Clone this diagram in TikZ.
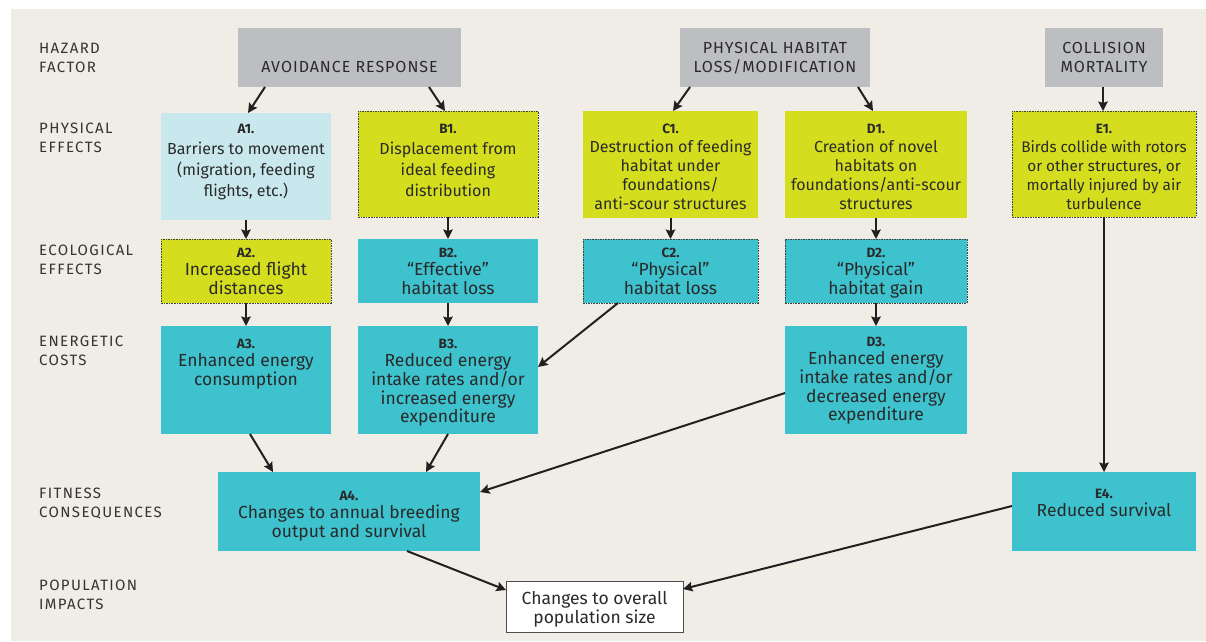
\documentclass[tikz,border=0pt]{standalone}
\usepackage{fontspec}
\setmainfont{Fira Sans}
\newfontfamily\lblfont[LetterSpace=9]{Fira Sans}
\newfontfamily\hzfont[LetterSpace=6]{Fira Sans}
\usetikzlibrary{arrows.meta,calc}
\definecolor{bg}{HTML}{F0EDE6}
\definecolor{grayb}{HTML}{BDBEC2}
\definecolor{lblue}{HTML}{C8E8EE}
\definecolor{ygreen}{HTML}{D5DE1E}
\definecolor{teal}{HTML}{3DC2CE}
\definecolor{txtc}{HTML}{2A2A2A}
\definecolor{lblc}{HTML}{333333}
\definecolor{arrc}{HTML}{231F20}
\tikzset{
  bx/.style={inner sep=0pt, outer sep=0pt, anchor=north west, draw=none},
  dsh/.style={draw=arrc!85, line width=0.7pt, dash pattern=on 1.6pt off 1pt},
  txt/.style={align=center, inner sep=0pt, anchor=north, text=txtc,
    font=\fontsize{17.5}{18.7}\selectfont},
  txtA/.style={txt, font=\fontsize{16}{21}\selectfont},
  txtB/.style={txt, font=\fontsize{16}{19}\selectfont},
  lbl/.style={align=left, inner sep=0pt, anchor=north west, text=lblc,
    font=\lblfont\fontsize{15}{19}\selectfont},
  hz/.style={align=center, inner sep=0pt, anchor=north, text=txtc,
    font=\hzfont\fontsize{16}{19}\selectfont},
  arr/.style={draw=arrc, line width=2pt,
    -{Stealth[length=9.5pt,width=9.5pt,inset=1.5pt]}}
}
\newcommand{\tg}[1]{{\bfseries\fontsize{13.5}{13}\selectfont #1}}
\begin{document}
\begin{tikzpicture}[x=1pt,y=-1pt]
\useasboundingbox (0,0) rectangle (1206,641);
\fill[white] (0,0) rectangle (1206,641);
\fill[bg] (11,9) rectangle (1206,641);

% hazard boxes
\node[bx, fill=grayb, minimum width=223pt, minimum height=59pt] (AV) at (238,28) {};
\node[bx, fill=grayb, minimum width=190pt, minimum height=59pt] (PH) at (680,28) {};
\node[bx, fill=grayb, minimum width=118pt, minimum height=59pt] (CM) at (1045,28) {};
\node[hz] (AVt) at (349.5,61.5) {AVOIDANCE RESPONSE};
\node[hz] (PHt) at (775,42.5) {PHYSICAL HABITAT\\LOSS/MODIFICATION};
\node[hz] (CMt) at (1104,42.5) {COLLISION\\MORTALITY};

% row 1
\node[bx, fill=lblue, minimum width=170pt, minimum height=107pt] (A1) at (161,113) {};
\node[bx, fill=ygreen, dsh, minimum width=180pt, minimum height=106pt] (B1) at (358,111) {};
\node[bx, fill=ygreen, minimum width=175pt, minimum height=107pt] (C1) at (583,111) {};
\node[bx, fill=ygreen, minimum width=182pt, minimum height=107pt] (D1) at (785,111) {};
\node[bx, fill=ygreen, dsh, minimum width=184pt, minimum height=106pt] (E1) at (1012,111) {};

% row 2
\node[bx, fill=ygreen, dsh, minimum width=170pt, minimum height=64pt] (A2) at (161,239) {};
\node[bx, fill=teal, minimum width=180pt, minimum height=64pt] (B2) at (358,239) {};
\node[bx, fill=teal, dsh, minimum width=175pt, minimum height=64pt] (C2) at (583,239) {};
\node[bx, fill=teal, dsh, minimum width=182pt, minimum height=64pt] (D2) at (785,239) {};

% row 3
\node[bx, fill=teal, minimum width=170pt, minimum height=108pt] (A3) at (161,326) {};
\node[bx, fill=teal, minimum width=180pt, minimum height=108pt] (B3) at (358,326) {};
\node[bx, fill=teal, minimum width=182pt, minimum height=108pt] (D3) at (785,326) {};

% row 4
\node[bx, fill=teal, minimum width=262pt, minimum height=79pt] (A4) at (218,472) {};
\node[bx, fill=teal, minimum width=184pt, minimum height=79pt] (E4) at (1012,472) {};

% population
\node[bx, fill=white, draw=arrc!80, line width=1pt, minimum width=177pt, minimum height=51pt] (POP) at (506,581) {};

% texts
\node[txtA] (A1t) at ([yshift=-10.5pt]A1.north) {\tg{A1.}\\Barriers to movement\\(migration, feeding\\flights, etc.)};
\node[txtA] (B1t) at ([yshift=-12.5pt]B1.north) {\tg{B1.}\\Displacement from\\ideal feeding\\distribution};
\node[txtB] (C1t) at ([yshift=-12.5pt]C1.north) {\tg{C1.}\\Destruction of feeding\\habitat under\\foundations/\\anti-scour structures};
\node[txtB] (D1t) at ([yshift=-12.5pt]D1.north) {\tg{D1.}\\Creation of novel\\habitats on\\foundations/anti-scour\\structures};
\node[txtB, font=\fontsize{15.3}{19}\selectfont] (E1t) at ([yshift=-12.5pt]E1.north) {\tg{E1.}\\Birds collide with rotors\\or other structures, or\\mortally injured by air\\turbulence};

\node[txt] (A2t) at ([yshift=-8.5pt]A2.north) {\tg{A2.}\\Increased flight\\distances};
\node[txt] (B2t) at ([yshift=-8.5pt]B2.north) {\tg{B2.}\\“Effective”\\habitat loss};
\node[txt] (C2t) at ([yshift=-8.5pt]C2.north) {\tg{C2.}\\“Physical”\\habitat loss};
\node[txt] (D2t) at ([yshift=-8.5pt]D2.north) {\tg{D2.}\\“Physical”\\habitat gain};

\node[txt] (A3t) at ([yshift=-12.5pt]A3.north) {\tg{A3.}\\Enhanced energy\\consumption};
\node[txt] (B3t) at ([yshift=-12.5pt]B3.north) {\tg{B3.}\\Reduced energy\\intake rates and/or\\increased energy\\expenditure};
\node[txt] (D3t) at ([yshift=-10.5pt]D3.north) {\tg{D3.}\\Enhanced energy\\intake rates and/or\\decreased energy\\expenditure};

\node[txt] (A4t) at ([yshift=-18.5pt]A4.north) {\tg{A4.}\\Changes to annual breeding\\output and survival};
\node[txt] (E4t) at ([yshift=-16.5pt]E4.north) {\tg{E4.}\\Reduced survival};
\node[txt] (POPt) at ([yshift=-10pt]POP.north) {Changes to overall\\population size};

% left labels
\node[lbl] (L1) at (39,42.8) {HAZARD\\FACTOR};
\node[lbl] (L2) at (39,122.8) {PHYSICAL\\EFFECTS};
\node[lbl] (L3) at (39,244.8) {ECOLOGICAL\\EFFECTS};
\node[lbl] (L4) at (39,335.8) {ENERGETIC\\COSTS};
\node[lbl] (L5) at (39,487.8) {FITNESS\\CONSEQUENCES};
\node[lbl] (L6) at (39,579.8) {POPULATION\\IMPACTS};

% connectors
\draw[arr] ([xshift=27pt]AV.south west) -- ([xshift=87pt]A1.north west);
\draw[arr] ([xshift=191pt]AV.south west) -- ([xshift=87pt]B1.north west);
\draw[arr] ([xshift=10pt]PH.south west) -- ([xshift=90pt]C1.north west);
\draw[arr] ([xshift=178pt]PH.south west) -- ([xshift=88pt]D1.north west);
\draw[arr] ([xshift=58pt]CM.south west) -- ([xshift=91pt]E1.north west);
\draw[arr] (A1) -- (A2);
\draw[arr] (B1) -- (B2);
\draw[arr] (C1) -- (C2);
\draw[arr] (D1) -- (D2);
\draw[arr] (A2) -- (A3);
\draw[arr] (B2) -- (B3);
\draw[arr] (D2) -- (D3);
\draw[arr] ([xshift=35pt]C2.south west) -- ([yshift=-41pt]B3.north east);
\draw[arr] (E1) -- (E4);
\draw[arr] ([xshift=89pt]A3.south west) -- ([xshift=55pt]A4.north west);
\draw[arr] (B3.south) -- ([xshift=208pt]A4.north west);
\draw[arr] ([yshift=-67pt]D3.north west) -- ([yshift=-20pt]A4.north east);
\draw[arr] ([xshift=189pt]A4.south west) -- ([yshift=-9pt]POP.north west);
\draw[arr] ([yshift=-34pt]E4.north west) -- ([yshift=-8pt]POP.north east);
\end{tikzpicture}
\end{document}
